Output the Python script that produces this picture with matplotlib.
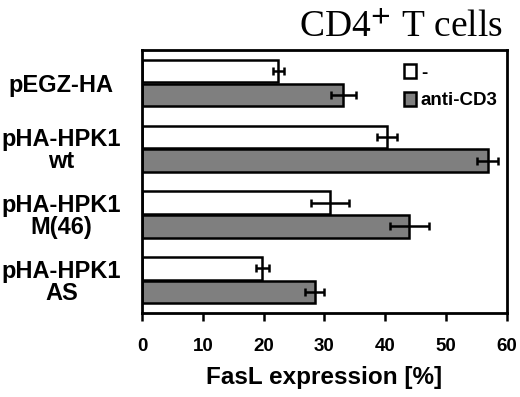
import matplotlib
matplotlib.use("Agg")
import matplotlib.pyplot as plt
import numpy as np

categories = ["pEGZ-HA", "pHA-HPK1\nwt", "pHA-HPK1\nM(46)", "pHA-HPK1\nAS"]
series_names = ["-", "anti-CD3"]
untreated = [22.4, 40.3, 30.9, 19.8]
untreated_err = [0.9, 1.7, 3.1, 1.0]
anti_cd3 = [33.1, 56.8, 43.9, 28.4]
anti_cd3_err = [2.0, 1.7, 3.2, 1.6]
xticks = [0, 10, 20, 30, 40, 50, 60]

plt.rcParams['font.family'] = ['Liberation Sans', 'DejaVu Sans']
plt.rcParams['font.weight'] = 'bold'

fig = plt.figure(figsize=(5.2, 3.97), dpi=100)
ax = fig.add_axes([0.273, 0.211, 0.702, 0.663])

y = np.arange(len(categories))
h = 0.34
ekw = dict(ecolor='black', elinewidth=1.8, capsize=3, capthick=1.8)
ax.barh(y - 0.18, untreated, height=h, color='white', edgecolor='black', linewidth=1.8,
        xerr=untreated_err, error_kw=ekw, label=series_names[0])
ax.barh(y + 0.18, anti_cd3, height=h, color='#7f7f7f', edgecolor='black', linewidth=1.8,
        xerr=anti_cd3_err, error_kw=ekw, label=series_names[1])

ax.set_ylim(3.5, -0.5)
ax.set_xlim(0, 60)
ax.set_xticks(xticks)
ax.set_xticklabels([str(t) for t in xticks], fontsize=13.5, fontweight='bold')
ax.tick_params(axis='x', direction='out', length=6, width=1.8, pad=12)
ax.set_yticks(y)
ax.set_yticklabels(categories, fontsize=17, ha='center', linespacing=0.95, fontweight='bold')
ax.tick_params(axis='y', length=0, pad=58)
for s in ax.spines.values():
    s.set_linewidth(2)
ax.set_xlabel("FasL expression [%]", fontsize=17.5, fontweight='bold', labelpad=8)

leg = ax.legend(loc='upper left', bbox_to_anchor=(0.697, 0.975), frameon=False,
                prop=dict(size=13.5, weight='bold'),
                handlelength=0.65, handleheight=0.75, handletextpad=0.25, labelspacing=0.55,
                borderaxespad=0)

fig.text(0.968, 0.907, "CD4$^{+}$ T cells", ha='right', va='baseline', fontsize=27,
         family='Liberation Serif', fontweight='normal', math_fontfamily='stix')

fig.savefig("out.png", dpi=100)
